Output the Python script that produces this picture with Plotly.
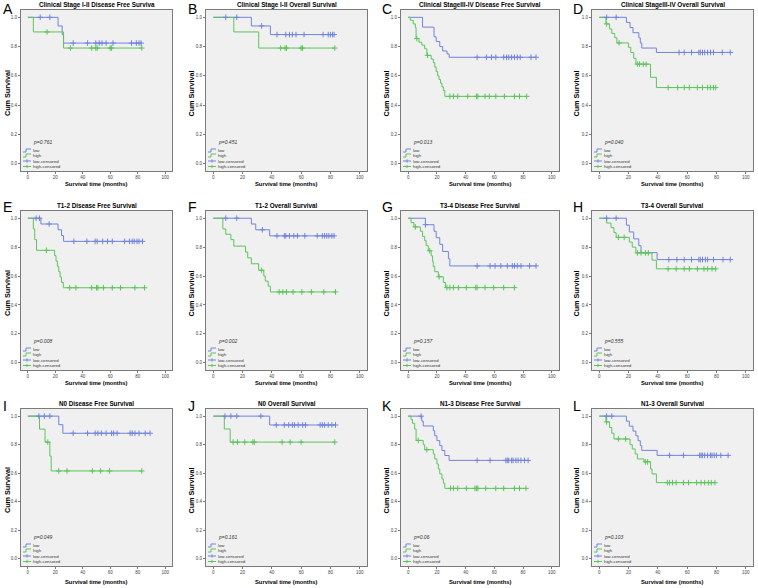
import plotly.graph_objects as go

# ---------------- data ----------------
A_low_t = [22, 25, 26]
A_low_s = [0.941, 0.882, 0.824]
A_low_c = [9, 16, 33, 43.5, 49.5, 52, 54, 57, 62, 75.5, 79, 81, 82.5]
A_high_t = [4, 26]
A_high_s = [0.90, 0.79]
A_high_c = [14, 31, 46.5, 49.5, 50.5, 60, 61, 83]

B_low_t = [26, 39]
B_low_s = [0.941, 0.882]
B_low_c = [8.5, 16, 33, 43.5, 49.5, 52, 54, 56.5, 62, 75, 78.5, 80, 81.5, 82.5]
B_high_t = [14, 31]
B_high_s = [0.90, 0.79]
B_high_c = [46, 49, 50, 60, 61, 83]

C_low_t = [10, 18, 19.5, 22, 24, 27, 28.5]
C_low_s = [0.933, 0.867, 0.835, 0.80, 0.77, 0.75, 0.727]
C_low_c = [48, 54.5, 58, 61, 66.5, 68.5, 70, 72, 74, 76, 78, 85.5, 89]
C_high_t = [1.5, 3.5, 5, 5.5, 7.5, 9.5, 11.5, 13, 16, 17.5, 18.5, 19.5, 20.5, 21.5, 22.5, 23.5, 24.5, 25.5]
C_high_s = [0.98, 0.955, 0.93, 0.855, 0.83, 0.81, 0.785, 0.74, 0.715, 0.69, 0.66, 0.63, 0.60, 0.575, 0.55, 0.525, 0.50, 0.46]
C_high_c = [6, 13.5, 29, 31.5, 34.5, 41.5, 47.5, 48.5, 53.5, 56.5, 61, 67, 74, 77.5, 82.5]

D_low_t = [18.5, 21, 23, 27, 28, 29, 39]
D_low_s = [0.965, 0.93, 0.895, 0.86, 0.825, 0.79, 0.76]
D_low_c = [5, 11.5, 54.5, 58, 63, 68, 69, 70.5, 72, 74, 76, 78, 84, 89.5]
D_high_t = [4.5, 7, 8.5, 10.5, 12, 20, 21.5, 23.5, 25, 35, 39]
D_high_s = [0.955, 0.92, 0.89, 0.86, 0.825, 0.795, 0.76, 0.72, 0.68, 0.59, 0.52]
D_high_c = [5, 13.5, 26, 27.5, 30, 32, 47, 53.5, 58, 61.5, 67, 70.5, 74, 76, 78, 79.5]

E_low_t = [9.5, 22, 24.5, 26]
E_low_s = [0.96, 0.92, 0.88, 0.84]
E_low_c = [6, 8.5, 15.5, 33.5, 43, 49, 50.5, 54.5, 58, 61.5, 70.5, 74, 76, 77.5, 79.5, 81, 83.5]
E_high_t = [4, 5, 6.3, 19.5, 20.5, 21.5, 22.5, 23.5, 24.5, 25.8]
E_high_s = [0.926, 0.852, 0.778, 0.741, 0.704, 0.667, 0.630, 0.593, 0.556, 0.519]
E_high_c = [13.5, 30.5, 35, 46.5, 50, 51, 55, 61.5, 67.5, 78, 85]

F_low_t = [26, 29, 38.5]
F_low_s = [0.96, 0.92, 0.878]
F_low_c = [8.5, 16, 33.5, 43.5, 48.5, 49.5, 52, 55, 57.5, 62.5, 71, 74.5, 76, 77.5, 79, 81, 82.5]
F_high_t = [6.5, 8.5, 12, 14, 22, 23.5, 26, 31, 34.5, 35.5, 37.5, 39]
F_high_s = [0.926, 0.889, 0.852, 0.807, 0.766, 0.726, 0.685, 0.640, 0.60, 0.565, 0.53, 0.49]
F_high_c = [33, 45, 47.5, 50, 54.5, 60.5, 67, 75.5, 83.5]

G_low_t = [12, 18, 19.5, 22, 24, 28, 29]
G_low_s = [0.955, 0.91, 0.865, 0.82, 0.77, 0.72, 0.67]
G_low_c = [12, 48, 57, 60.5, 64.5, 69, 72.5, 74, 76, 78.5, 84.5, 89]
G_high_t = [2, 4, 8.5, 10, 11.5, 12.5, 14, 16, 17, 17.5, 18.5, 21, 24.5, 26]
G_high_s = [0.97, 0.94, 0.91, 0.875, 0.845, 0.81, 0.775, 0.74, 0.70, 0.665, 0.63, 0.595, 0.555, 0.52]
G_high_c = [5, 15, 21.5, 27, 29, 31.5, 35, 40.5, 47, 48, 53.5, 59.5, 66.5, 74]

H_low_t = [18.5, 20.5, 23.5, 27, 28.5, 39.5]
H_low_s = [0.952, 0.905, 0.857, 0.81, 0.762, 0.714]
H_low_c = [5, 11.5, 47.5, 53, 58, 63, 68, 69, 70.5, 72.5, 74, 78, 84.5, 89.5]
H_high_t = [5, 8, 10, 11.5, 20.5, 22.5, 25, 36, 39]
H_high_s = [0.967, 0.935, 0.90, 0.868, 0.835, 0.80, 0.76, 0.71, 0.65]
H_high_c = [13, 17, 26, 28.5, 31.5, 33.5, 47, 52.5, 58, 61.5, 67, 71.5, 74, 77, 79.5]

I_low_t = [22.5, 25.5]
I_low_s = [0.94, 0.88]
I_low_c = [8, 12, 16, 33, 43.5, 49, 51, 53.5, 57, 61, 62.5, 65, 74.5, 76, 78, 81, 85.5, 89]
I_high_t = [8.5, 12.5, 16, 17]
I_high_s = [0.909, 0.818, 0.72, 0.616]
I_high_c = [14.5, 22.5, 28.5, 47, 53, 59.5, 83]

J_low_t = [38.5]
J_low_s = [0.938]
J_low_c = [8, 12, 16, 32.5, 43, 48.5, 51.5, 54, 55.5, 58, 61, 63, 73, 74.5, 76, 78.5, 81, 83.5]
J_high_t = [7.5, 11.5]
J_high_s = [0.91, 0.818]
J_high_c = [13.5, 16.5, 21.5, 27, 28, 47, 52.5, 60, 83]

K_low_t = [9.5, 10.5, 17.5, 18.5, 20, 22, 23.5, 25.5, 28.5]
K_low_s = [0.965, 0.931, 0.897, 0.862, 0.828, 0.793, 0.759, 0.724, 0.69]
K_low_c = [9, 48, 57, 68, 69, 70, 72, 73, 75, 76.5, 78.5, 81, 83.5]
K_high_t = [2, 3, 4.5, 5.5, 10.5, 11.5, 17.5, 18.5, 20, 21, 22, 23.5, 24.5, 25.5]
K_high_s = [0.975, 0.95, 0.91, 0.83, 0.80, 0.765, 0.735, 0.70, 0.665, 0.63, 0.595, 0.56, 0.53, 0.494]
K_high_c = [7, 13, 29.5, 31.5, 34.5, 40.5, 46.5, 47.5, 48.5, 54, 61, 66.5, 74, 77.5, 82]

L_low_t = [18.5, 20.5, 23, 25, 26.5, 28, 29, 39.5]
L_low_s = [0.965, 0.93, 0.895, 0.862, 0.828, 0.793, 0.76, 0.725]
L_low_c = [5, 8.5, 48, 57.5, 68.5, 69.5, 70.5, 72, 74, 76, 77, 78.5, 80, 83, 88]
L_high_t = [4.5, 7, 8.5, 10, 21, 22.5, 24.5, 26, 30.5, 35, 36, 39]
L_high_s = [0.96, 0.92, 0.88, 0.84, 0.80, 0.77, 0.735, 0.70, 0.68, 0.63, 0.595, 0.534]
L_high_c = [5, 13, 18, 31.5, 33, 46.5, 48, 50, 52.5, 57.5, 61, 66.5, 69.5, 72, 74.5, 76.5, 79]

letters = ["A", "B", "C", "D", "E", "F", "G", "H", "I", "J", "K", "L"]
titles = [
    "Clinical Stage I-II Disease Free Surviva",
    "Clinical Stage I-II Overall Survival",
    "Clinical StageIII-IV Disease Free Survival",
    "Clinical StageIII-IV Overall Survival",
    "T1-2 Disease Free Survival",
    "T1-2 Overall Survival",
    "T3-4 Disease Free Survival",
    "T3-4 Overall Survival",
    "N0 Disease Free Survival",
    "N0 Overall Survival",
    "N1-3 Disease Free Survival",
    "N1-3 Overall Survival",
]
pvalues = ["p=0.761", "p=0.451", "p=0.013", "p=0.040", "p=0.008", "p=0.002",
           "p=0.157", "p=0.555", "p=0.049", "p=0.161", "p=0.06", "p=0.103"]
legend_labels = ["low", "high", "low-censored", "high-censored"]
x_ticks = [0, 20, 40, 60, 80, 100]
y_ticks = [0.0, 0.2, 0.4, 0.6, 0.8, 1.0]

panel_data = [
    (A_low_t, A_low_s, A_low_c, A_high_t, A_high_s, A_high_c),
    (B_low_t, B_low_s, B_low_c, B_high_t, B_high_s, B_high_c),
    (C_low_t, C_low_s, C_low_c, C_high_t, C_high_s, C_high_c),
    (D_low_t, D_low_s, D_low_c, D_high_t, D_high_s, D_high_c),
    (E_low_t, E_low_s, E_low_c, E_high_t, E_high_s, E_high_c),
    (F_low_t, F_low_s, F_low_c, F_high_t, F_high_s, F_high_c),
    (G_low_t, G_low_s, G_low_c, G_high_t, G_high_s, G_high_c),
    (H_low_t, H_low_s, H_low_c, H_high_t, H_high_s, H_high_c),
    (I_low_t, I_low_s, I_low_c, I_high_t, I_high_s, I_high_c),
    (J_low_t, J_low_s, J_low_c, J_high_t, J_high_s, J_high_c),
    (K_low_t, K_low_s, K_low_c, K_high_t, K_high_s, K_high_c),
    (L_low_t, L_low_s, L_low_c, L_high_t, L_high_s, L_high_c),
]

# ---------------- layout geometry (pixels) ----------------
W, H = 758, 588
BLUE = "#7283dc"
GREEN = "#5cc55c"
FONT = "Liberation Sans, Arial, sans-serif"
COLS = [(21, 172), (206, 367), (401, 559), (592, 753)]
ROWS = [(10, 171), (211, 370), (409, 566)]
LETTER_X = [2, 187, 381, 572]
LETTER_YC = [9, 207, 406]
TITLE_Y = [5.5, 205, 403]
XTITLE_Y = [184, 383, 582]
YTITLE_X = [7.5, 191, 386, 576]


def px(x):
    return x / W


def py(y):
    return 1 - y / H


def km_xy(t, s, c):
    end = max(list(c) + list(t))
    xs = [0] + list(t) + [end]
    ys = [1.0] + list(s) + [s[-1]]
    return xs, ys


def surv_at(t, s, x):
    v = 1.0
    for ti, si in zip(t, s):
        if x >= ti:
            v = si
    return v


fig = go.Figure()
annotations = []
shapes = []
layout = {}

for i, (lt, ls, lc, ht, hs, hc) in enumerate(panel_data):
    r, cidx = divmod(i, 4)
    left, right = COLS[cidx]
    top, bottom = ROWS[r]
    n = i + 1
    xa = "x" if n == 1 else f"x{n}"
    ya = "y" if n == 1 else f"y{n}"
    xkey = "xaxis" if n == 1 else f"xaxis{n}"
    ykey = "yaxis" if n == 1 else f"yaxis{n}"

    for (t, s, c, col) in [(lt, ls, lc, BLUE), (ht, hs, hc, GREEN)]:
        xs, ys = km_xy(t, s, c)
        fig.add_trace(go.Scatter(x=xs, y=ys, mode="lines", line=dict(color=col, width=1, shape="hv"),
                                 xaxis=xa, yaxis=ya, showlegend=False, hoverinfo="skip"))
    for (t, s, c, col) in [(lt, ls, lc, BLUE), (ht, hs, hc, GREEN)]:
        cy = [surv_at(t, s, x) for x in c]
        fig.add_trace(go.Scatter(x=c, y=cy, mode="markers",
                                 marker=dict(symbol="cross-thin", size=4, line=dict(color=col, width=1)),
                                 xaxis=xa, yaxis=ya, showlegend=False, hoverinfo="skip"))

    axis_common = dict(showline=True, mirror=True, linecolor="#7a7a7a", linewidth=1, showgrid=False,
                       zeroline=False, ticks="outside", ticklen=2, tickwidth=1, tickcolor="#7a7a7a",
                       tickfont=dict(size=4.5, color="#444", family=FONT), fixedrange=True)
    layout[xkey] = dict(domain=[px(left), px(right)], anchor=ya, range=[-5, 105], tickvals=x_ticks,
                        ticktext=[str(v) for v in x_ticks], **axis_common)
    layout[ykey] = dict(domain=[py(bottom), py(top)], anchor=xa, range=[-0.05, 1.05], tickvals=y_ticks,
                        ticktext=[f"{v:.1f}" for v in y_ticks], **axis_common)

    cx = (left + right) / 2
    # panel letter
    annotations.append(dict(text=letters[i], x=px(LETTER_X[cidx]), y=py(LETTER_YC[r]), xref="paper", yref="paper",
                            xanchor="left", yanchor="middle", showarrow=False, borderpad=0,
                            font=dict(size=14, family=FONT, color="black")))
    # title
    annotations.append(dict(text=titles[i], x=px(cx), y=py(TITLE_Y[r]), xref="paper", yref="paper",
                            xanchor="center", yanchor="middle", showarrow=False, borderpad=0,
                            font=dict(size=6.3, family=FONT, color="black", weight="bold")))
    # x title
    annotations.append(dict(text="Survival time (months)", x=px(cx), y=py(XTITLE_Y[r]), xref="paper", yref="paper",
                            xanchor="center", yanchor="middle", showarrow=False, borderpad=0,
                            font=dict(size=5.8, family=FONT, color="black", weight="bold")))
    # y title
    annotations.append(dict(text="Cum Survival", x=px(YTITLE_X[cidx]), y=py((top + bottom) / 2 + 3),
                            xref="paper", yref="paper", xanchor="center", yanchor="middle", textangle=-90,
                            showarrow=False, borderpad=0,
                            font=dict(size=7.2, family=FONT, color="black", weight="bold")))
    # p value
    annotations.append(dict(text=pvalues[i], x=px(left + 11), y=py(bottom - 29), xref="paper", yref="paper",
                            xanchor="left", yanchor="middle", showarrow=False, borderpad=0,
                            font=dict(size=5, family=FONT, color="#333", style="italic")))
    # legend
    offsets = [20.5, 15.5, 10, 4.5]
    cols_leg = [BLUE, GREEN, BLUE, GREEN]
    for k in range(4):
        yc = bottom - offsets[k]
        x0, x1 = left + 2, left + 10
        if k < 2:
            path = (f"M {px(x0)},{py(yc + 1.5)} L {px(x0 + 3)},{py(yc + 1.5)} "
                    f"L {px(x0 + 3)},{py(yc - 1.5)} L {px(x1)},{py(yc - 1.5)}")
            shapes.append(dict(type="path", path=path, xref="paper", yref="paper",
                               line=dict(color=cols_leg[k], width=1)))
        else:
            shapes.append(dict(type="line", x0=px(x0), x1=px(x1), y0=py(yc), y1=py(yc), xref="paper",
                               yref="paper", line=dict(color=cols_leg[k], width=1)))
            xm = (x0 + x1) / 2
            shapes.append(dict(type="line", x0=px(xm), x1=px(xm), y0=py(yc - 1.6), y1=py(yc + 1.6),
                               xref="paper", yref="paper", line=dict(color=cols_leg[k], width=1)))
        annotations.append(dict(text=legend_labels[k], x=px(left + 11), y=py(yc), xref="paper", yref="paper",
                                xanchor="left", yanchor="middle", showarrow=False, borderpad=0,
                                font=dict(size=4.3, family=FONT, color="#333")))

fig.update_layout(
    width=W, height=H, margin=dict(l=0, r=0, t=0, b=0),
    paper_bgcolor="white", plot_bgcolor="#f0f0f0",
    showlegend=False, annotations=annotations, shapes=shapes,
    **layout,
)

fig.write_html("out.html", config={"displayModeBar": False},
               post_script="document.body.style.margin='0';document.body.style.padding='0';"
                           "document.body.style.overflow='hidden';")
